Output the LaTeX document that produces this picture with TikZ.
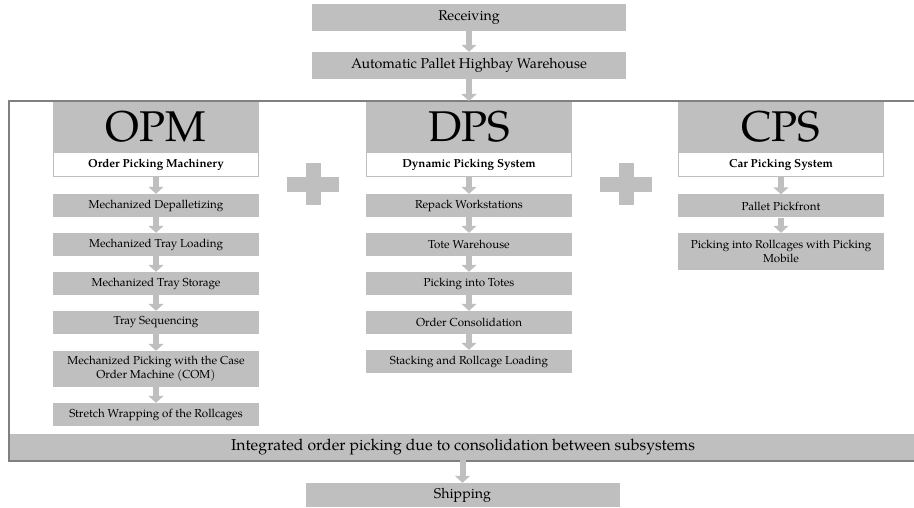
\documentclass[tikz,border=0pt]{standalone}
\usepackage{fontspec}
\setmainfont{TeX Gyre Pagella}
\usetikzlibrary{arrows.meta}

\definecolor{boxgray}{RGB}{191,191,191}
\definecolor{framegray}{RGB}{128,128,128}

\begin{document}
\begin{tikzpicture}[x=1pt,y=-1pt,
	mainbox/.style={fill=boxgray, minimum width=314pt, minimum height=27pt, inner sep=0pt, font=\fontsize{14.2}{16}\selectfont},
	headbox/.style={fill=boxgray, minimum width=206pt, minimum height=50pt, inner sep=0pt, font=\fontsize{43}{43}\selectfont},
	subbox/.style={fill=white, draw=boxgray, line width=1pt, minimum width=205pt, minimum height=24pt, inner sep=0pt, font=\bfseries\fontsize{11.6}{13}\selectfont},
	stepbox/.style={fill=boxgray, minimum width=206pt, minimum height=23pt, inner sep=1pt, align=center, font=\fontsize{11.6}{14}\selectfont},
	flow/.style={draw=boxgray, line width=6pt, -{Triangle[width=15pt,length=7pt]}}
	]
\useasboundingbox (0,0) rectangle (914,508);

% integrated bar and the frame round the subsystems
\path (463,447) node[fill=boxgray, minimum width=906pt, minimum height=26pt, inner sep=0pt, font=\fontsize{15.8}{17}\selectfont] (integ) {Integrated order picking due to consolidation between subsystems};
\draw[framegray, line width=2pt] (918,101) -- (9,101) -- (9,461) -- (918,461);
\coordinate (frametop) at (469,101);

\path (469,17.5) node[mainbox] (recv) {Receiving}
	(469,65.5) node[mainbox] (highbay) {Automatic Pallet Highbay Warehouse}
	(462.5,495) node[mainbox, minimum height=24pt] (ship) {Shipping}
	;

% the three subsystems
\path (156,127) node[headbox] (opm) {OPM}
	(156,164.5) node[subbox] (opmsub) {Order Picking Machinery}
	(156,205.5) node[stepbox] (opma) {Mechanized Depalletizing}
	(156,244.5) node[stepbox] (opmb) {Mechanized Tray Loading}
	(156,283.5) node[stepbox] (opmc) {Mechanized Tray Storage}
	(156,322.5) node[stepbox] (opmd) {Tray Sequencing}
	(156,369) node[stepbox, minimum height=36pt] (opme) {Mechanized Picking with the Case\\ Order Machine (COM)}
	(156,414.5) node[stepbox] (opmf) {Stretch Wrapping of the Rollcages}
	;
\path (469,127) node[headbox] (dps) {DPS}
	(469,164.5) node[subbox] (dpssub) {Dynamic Picking System}
	(469,205.5) node[stepbox] (dpsa) {Repack Workstations}
	(469,244.5) node[stepbox] (dpsb) {Tote Warehouse}
	(469,283.5) node[stepbox] (dpsc) {Picking into Totes}
	(469,322.5) node[stepbox] (dpsd) {Order Consolidation}
	(469,361.5) node[stepbox] (dpse) {Stacking and Rollcage Loading}
	;
\path (781,127) node[headbox] (cps) {CPS}
	(781,164.5) node[subbox] (cpssub) {Car Picking System}
	(781,206) node[stepbox] (cpsa) {Pallet Pickfront}
	(781,251.5) node[stepbox, minimum height=37pt] (cpsb) {Picking into Rollcages with Picking\\ Mobile}
	;

% plus signs
\foreach \px in {313,626} {
	\fill[boxgray] (\px-26,177) rectangle (\px+26,192);
	\fill[boxgray] (\px-7.5,163) rectangle (\px+7.5,205);
}

\draw[flow] (node cs:name=recv) -- (node cs:name=highbay);
\draw[flow] (highbay.south) -- (frametop);
\draw[flow] (integ.south -| ship.north) -- (ship.north);
\draw[flow] (node cs:name=opmsub) -- (node cs:name=opma);
\draw[flow] (node cs:name=opma) -- (node cs:name=opmb);
\draw[flow] (node cs:name=opmb) -- (node cs:name=opmc);
\draw[flow] (node cs:name=opmc) -- (node cs:name=opmd);
\draw[flow] (node cs:name=opmd) -- (node cs:name=opme);
\draw[flow] (node cs:name=opme) -- (node cs:name=opmf);
\draw[flow] (node cs:name=dpssub) -- (node cs:name=dpsa);
\draw[flow] (node cs:name=dpsa) -- (node cs:name=dpsb);
\draw[flow] (node cs:name=dpsb) -- (node cs:name=dpsc);
\draw[flow] (node cs:name=dpsc) -- (node cs:name=dpsd);
\draw[flow] (node cs:name=dpsd) -- (node cs:name=dpse);
\draw[flow] (node cs:name=cpssub) -- (node cs:name=cpsa);
\draw[flow] (node cs:name=cpsa) -- (node cs:name=cpsb);
\end{tikzpicture}
\end{document}
